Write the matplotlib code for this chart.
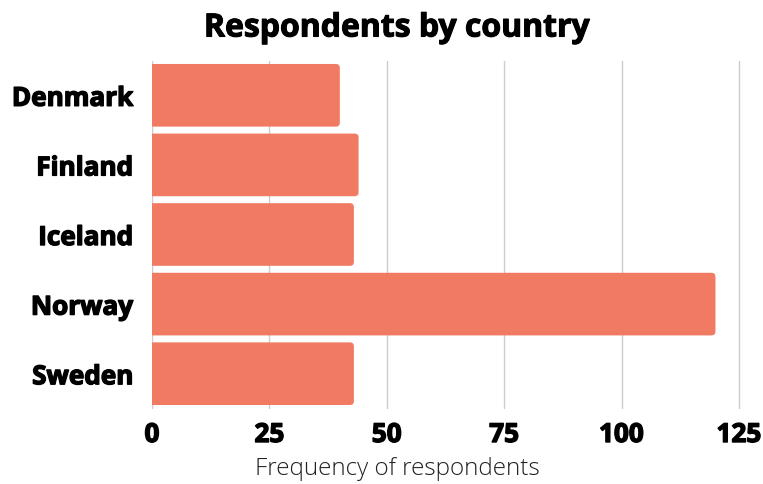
import matplotlib
matplotlib.use("Agg")
import matplotlib.pyplot as plt
from matplotlib.patches import FancyBboxPatch
import matplotlib.patheffects as pe

countries = ["Denmark", "Finland", "Iceland", "Norway", "Sweden"]
counts = [40, 44, 43, 120, 43]
xticks = [0, 25, 50, 75, 100, 125]

bar_color = "#F07A62"

fig = plt.figure(figsize=(7.63, 4.84), dpi=100)
ax = fig.add_axes([152/763, (484-408.5)/484, (753-152)/763, (408.5-60.5)/484])

bars = ax.barh(countries, counts, height=0.9, color=bar_color, zorder=2)
ax.set_xlim(0, 128)
ax.set_ylim(len(countries)-0.5, -0.5)

# replace bars with rounded versions
fig.canvas.draw()
px_x = ax.transData.transform((1, 0))[0] - ax.transData.transform((0, 0))[0]
px_y = abs(ax.transData.transform((0, 1))[1] - ax.transData.transform((0, 0))[1])
aspect = px_x / px_y
r = 4 / px_x
for b in bars:
    x, y = b.get_x(), b.get_y()
    w, h = b.get_width(), b.get_height()
    p = FancyBboxPatch((x - 2, y), w + 2, h,
                       boxstyle=f"round,pad=0,rounding_size={r}",
                       mutation_aspect=aspect,
                       facecolor=bar_color, edgecolor="none", zorder=2)
    ax.add_patch(p)
    b.remove()

ax.set_xticks(xticks)
ax.grid(axis="x", color="#cccccc", linewidth=1, zorder=0)
ax.set_axisbelow(True)
for s in ax.spines.values():
    s.set_visible(False)
ax.tick_params(axis="both", length=0)
ax.tick_params(axis="x", pad=9)
ax.tick_params(axis="y", pad=13.5)

heavy = [pe.withStroke(linewidth=1.0, foreground="black")]
for lab in ax.get_xticklabels() + ax.get_yticklabels():
    lab.set_fontfamily("Open Sans")
    lab.set_fontweight("bold")
    lab.set_fontsize(18.8)
    lab.set_color("black")
    lab.set_path_effects(heavy)

ax.set_xlabel("Frequency of respondents", fontfamily="Open Sans",
              fontweight="light", fontsize=17.5, color="#222222", labelpad=4)
ax.xaxis.set_label_coords((397 - 152) / (753 - 152), -0.138)
fig.text(397/763, 1 - 28/484, "Respondents by country", ha="center", va="center",
         fontfamily="Open Sans", fontweight="bold", fontsize=23, color="black",
         path_effects=[pe.withStroke(linewidth=0.8, foreground="black")])

fig.savefig("out.png", dpi=100)
